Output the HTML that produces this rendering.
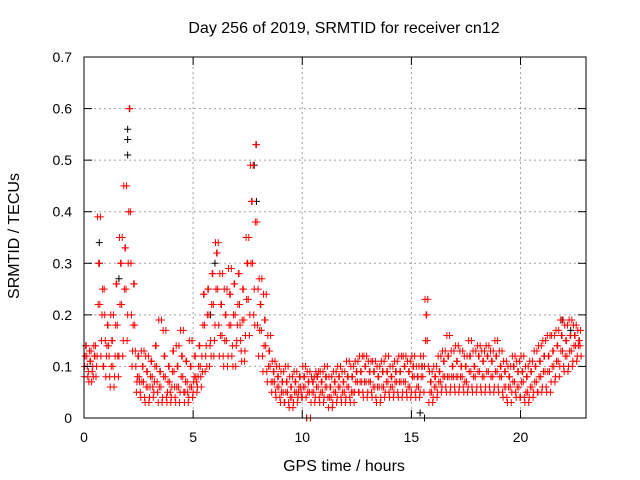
<!DOCTYPE html>
<html><head><meta charset="utf-8"><style>
body{margin:0;background:#fff}
svg{display:block;font-family:"Liberation Sans",sans-serif;font-size:14px}
.big{font-size:16px}
</style></head><body>
<svg id="chart" width="640" height="480" viewBox="0 0 640 480">
<rect width="640" height="480" fill="#fff"/>
<g id="grid"></g>
<g id="black"></g>
<g id="red"></g>
<rect x="84" y="57" width="502" height="361" fill="none" stroke="#000" stroke-width="1"/>
<g id="axes"></g>
<text class="big" x="344" y="33" text-anchor="middle">Day 256 of 2019, SRMTID for receiver cn12</text>
<text class="big" x="344" y="471" text-anchor="middle">GPS time / hours</text>
<text class="big" transform="translate(19,236) rotate(-90)" text-anchor="middle">SRMTID / TECUs</text>
</svg>
<script>
const xTicks=[0,5,10,15,20];
const yTicks=[0,0.1,0.2,0.3,0.4,0.5,0.6,0.7];
const yTickLabels=["0","0.1","0.2","0.3","0.4","0.5","0.6","0.7"];
const groupTimes=[0,0.2,0.4,0.6,0.8,1.0,1.2,1.4,1.6,1.8,2.0,2.2,2.4,2.6,2.8,3.0,3.2,3.4,3.6,3.8,4.0,4.2,4.4,4.6,4.8,5.0,5.2,5.4,5.6,5.8,6.0,6.2,6.4,6.6,6.8,7.0,7.2,7.4,7.6,7.8,8.0,8.2,8.4,8.6,8.8,9.0,9.2,9.4,9.6,9.8,10.0,10.2,10.4,10.6,10.8,11.0,11.2,11.4,11.6,11.8,12.0,12.2,12.4,12.6,12.8,13.0,13.2,13.4,13.6,13.8,14.0,14.2,14.4,14.6,14.8,15.0,15.2,15.4,15.6,15.8,16.0,16.2,16.4,16.6,16.8,17.0,17.2,17.4,17.6,17.8,18.0,18.2,18.4,18.6,18.8,19.0,19.2,19.4,19.6,19.8,20.0,20.2,20.4,20.6,20.8,21.0,21.2,21.4,21.6,21.8,22.0,22.2,22.4,22.6];
const redValues=[
[.08,.12,.14,.10],[.09,.13,.11,.07],[.10,.14,.12,.08],[.12,.22,.30,.39],[.15,.25,.10,.20],[.08,.14,.18,.12],[.06,.10,.15,.20],[.08,.18,.26,.12],[.12,.22,.30,.35],[.15,.25,.33,.45],
[.20,.40,.60,.30],[.10,.18,.26,.13],[.05,.08,.12,.07],[.04,.07,.10,.13],[.03,.06,.09,.12],[.04,.08,.11,.06],[.05,.10,.14,.07],[.03,.06,.09,.19],[.04,.08,.12,.17],[.03,.07,.10,.05],
[.04,.09,.13,.06],[.03,.06,.10,.14],[.05,.08,.12,.17],[.03,.07,.11,.05],[.04,.06,.10,.15],[.05,.08,.12,.07],[.06,.10,.14,.08],[.12,.18,.24,.09],[.14,.20,.25,.10],[.15,.22,.28,.12],
[.18,.25,.32,.34],[.12,.16,.22,.28],[.10,.15,.20,.25],[.12,.18,.24,.29],[.14,.20,.26,.10],[.15,.22,.28,.18],[.13,.19,.25,.11],[.16,.23,.30,.35],[.20,.30,.42,.49],[.25,.38,.53,.18],
[.12,.17,.22,.27],[.09,.14,.19,.24],[.07,.10,.13,.16],[.05,.07,.09,.11],[.04,.06,.08,.10],[.03,.05,.07,.09],[.03,.05,.07,.10],[.02,.04,.06,.08],[.03,.05,.07,.09],[.04,.06,.08,.05],
[.04,.06,.08,.10],[.00,.05,.07,.09],[.03,.05,.07,.08],[.04,.06,.08,.09],[.03,.05,.07,.09],[.04,.06,.08,.10],[.02,.04,.06,.08],[.03,.05,.07,.09],[.04,.06,.08,.10],[.03,.05,.07,.09],
[.04,.06,.08,.11],[.03,.05,.08,.10],[.05,.07,.09,.11],[.05,.07,.09,.12],[.04,.07,.10,.12],[.05,.07,.09,.11],[.04,.06,.09,.11],[.03,.06,.08,.10],[.04,.06,.09,.11],[.05,.07,.09,.12],
[.04,.06,.08,.10],[.05,.07,.09,.11],[.04,.07,.09,.12],[.05,.07,.10,.12],[.04,.06,.09,.11],[.05,.08,.10,.12],[.04,.06,.08,.10],[.05,.08,.10,.12],[.10,.15,.20,.23],[.03,.05,.07,.09],
[.04,.06,.08,.10],[.05,.07,.09,.12],[.06,.08,.11,.13],[.05,.08,.12,.16],[.06,.08,.10,.13],[.05,.08,.11,.14],[.06,.08,.10,.13],[.05,.07,.10,.12],[.06,.09,.12,.15],[.05,.08,.10,.13],
[.06,.09,.12,.14],[.05,.08,.11,.13],[.06,.09,.12,.14],[.05,.08,.11,.13],[.06,.09,.12,.15],[.05,.08,.10,.13],[.04,.06,.09,.11],[.03,.06,.08,.10],[.05,.07,.10,.12],[.04,.06,.09,.11],
[.04,.07,.09,.12],[.03,.05,.08,.10],[.04,.06,.09,.11],[.05,.07,.10,.13],[.05,.08,.11,.14],[.06,.09,.12,.15],[.05,.09,.12,.16],[.07,.10,.13,.16],[.08,.11,.14,.17],[.10,.13,.16,.19],
[.09,.12,.15,.18],[.10,.13,.16,.19],[.11,.14,.16,.18],[.12,.14,.15,.17]];
const blackTimes=[0.7,2.0,2.0,2.0,6.0,7.8,15.4,15.6,22.3,21.9,1.6,5.8,10.2,0.7,7.9];
const blackValues=[.30,.56,.54,.51,.30,.49,.01,.00,.17,.19,.27,.20,.00,.34,.42];
const NS="http://www.w3.org/2000/svg";
const X=t=>84+t*(502/23);
const Y=v=>418-v*(361/0.7);
const grid=document.getElementById('grid'),axes=document.getElementById('axes');
function mk(tag,attrs,parent){const e=document.createElementNS(NS,tag);for(const k in attrs)e.setAttribute(k,attrs[k]);parent.appendChild(e);return e;}
yTicks.forEach((v,i)=>{
  const y=Y(v);
  if(i>0&&i<yTicks.length-1){const g=mk('line',{x1:84,x2:586,y1:y,y2:y,stroke:'#a0a0a0','stroke-dasharray':'2,3'},grid);
  
  }
  mk('line',{x1:84,x2:92,y1:y,y2:y,stroke:'#000'},axes);
  mk('line',{x1:578,x2:586,y1:y,y2:y,stroke:'#000'},axes);
  const t=mk('text',{x:72,y:y+5,'text-anchor':'end'},axes);t.textContent=yTickLabels[i];
  
  
});
xTicks.forEach(v=>{
  const x=X(v);
  if(v>0){const g=mk('line',{x1:x,x2:x,y1:57,y2:418,stroke:'#a0a0a0','stroke-dasharray':'2,3'},grid);
  
  }
  mk('line',{x1:x,x2:x,y1:418,y2:410,stroke:'#000'},axes);
  mk('line',{x1:x,x2:x,y1:57,y2:65,stroke:'#000'},axes);
  const t=mk('text',{x:x,y:442,'text-anchor':'middle'},axes);t.textContent=String(v);
  
  
});
function plus(x,y,col,parent){
  const p=mk('path',{d:`M${x-3.5},${y}h7M${x},${y-3.5}v7`,stroke:col,'stroke-width':1,fill:'none'},parent);
  
  
}
const bl=document.getElementById('black'),rd=document.getElementById('red');
blackTimes.forEach((t,i)=>plus(X(t),Y(blackValues[i]),'#000',bl));
groupTimes.forEach((t,gi)=>{
  const vs=redValues[gi];
  vs.forEach((v,k)=>plus(X(t+k*0.05),Y(v),'#ff0000',rd));
  vs.slice().reverse().forEach((v,k)=>plus(X(t+0.025+k*0.05),Y(v),'#ff0000',rd));
});
</script>
</body></html>
